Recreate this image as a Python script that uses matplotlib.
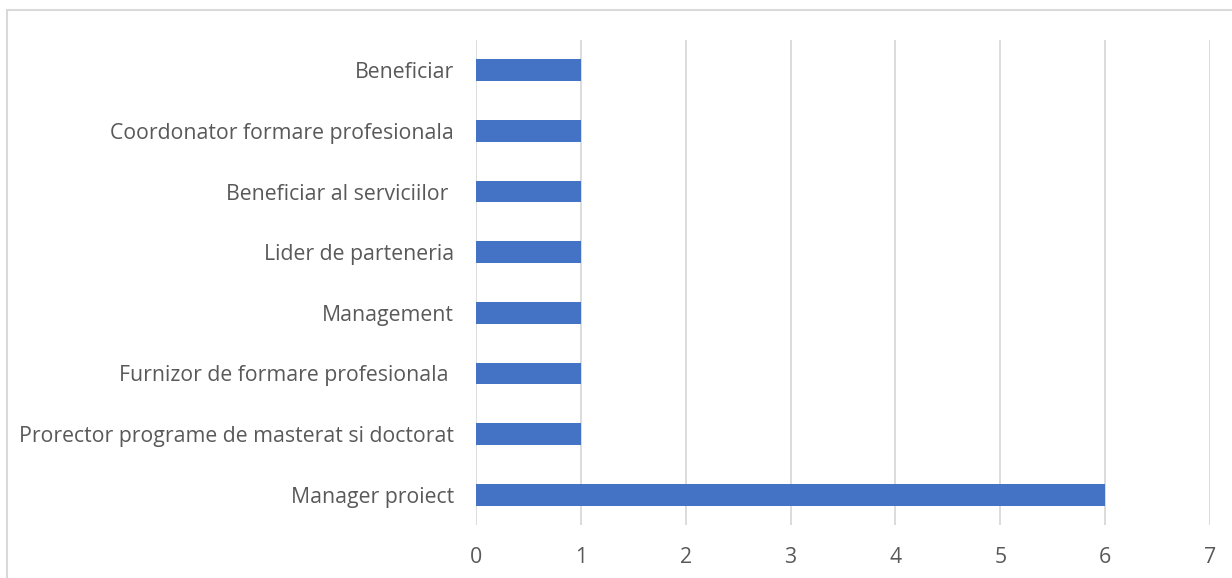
import matplotlib
matplotlib.use("Agg")
import matplotlib.pyplot as plt
from matplotlib.patches import Rectangle

categories = ["Manager proiect",
              "Prorector programe de masterat si doctorat",
              "Furnizor de formare profesionala ",
              "Management",
              "Lider de parteneria",
              "Beneficiar al serviciilor ",
              "Coordonator formare profesionala",
              "Beneficiar"]
values = [6, 1, 1, 1, 1, 1, 1, 1]
xticks = [0, 1, 2, 3, 4, 5, 6, 7]

plt.rcParams['font.family'] = ['Open Sans', 'DejaVu Sans']

fig = plt.figure(figsize=(12.32, 5.78), dpi=100)
ax = fig.add_axes([476/1232, 1-525/578, (1210-476)/1232, (525-40)/578])

ax.barh(range(len(categories)), values, height=0.36, color="#4472C4", zorder=3)
ax.set_ylim(-0.5, len(categories)-0.5)
ax.set_xlim(0, 7)
ax.set_xticks(xticks)
ax.set_xticklabels([str(t) for t in xticks])
ax.set_yticks(range(len(categories)))
ax.set_yticklabels(categories)
ax.tick_params(axis='both', length=0, labelsize=15.3, labelcolor="#595959")
ax.tick_params(axis='x', pad=16)
ax.tick_params(axis='y', pad=16)
ax.grid(axis='x', color="#d9d9d9", linewidth=1.3, zorder=0)
for s in ax.spines.values():
    s.set_visible(False)

fig.patches.append(Rectangle((7/1232, -0.1), 1.2, 1-10/578+0.1, transform=fig.transFigure,
                             fill=False, edgecolor="#d9d9d9", linewidth=1.5))

fig.savefig("out.png", dpi=100)
